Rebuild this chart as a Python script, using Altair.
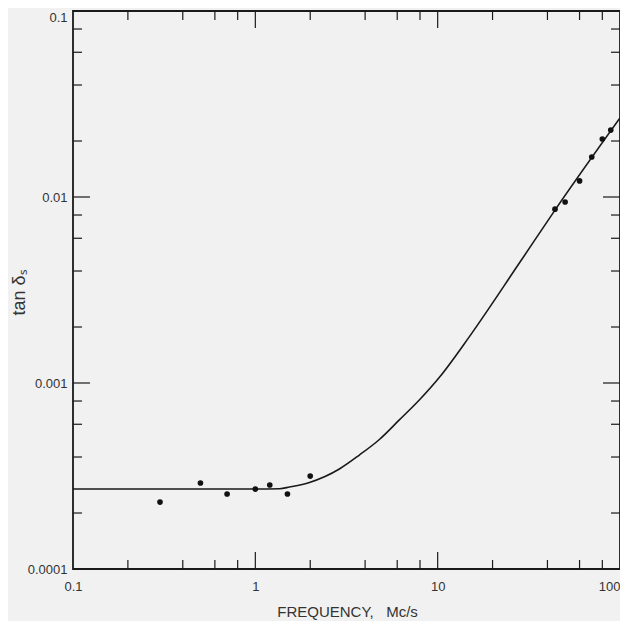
import altair as alt
import pandas as pd

# measured data points (frequency in Mc/s, tan delta_s)
pt_freq = [0.3, 0.5, 0.7, 1.0, 1.2, 1.5, 2.0, 44, 50, 60, 70, 80, 89]
pt_tan = [0.000229, 0.00029, 0.000253, 0.000269, 0.000283, 0.000253, 0.000316,
          0.0086, 0.0094, 0.0122, 0.0164, 0.0205, 0.0229]

# smooth curve
curve_freq = [0.1, 1.0, 1.36, 1.54, 1.98, 2.89, 3.72, 4.79, 6.16, 7.93, 10.2, 14.9, 28.0, 44.0, 100]
curve_tan = [0.000269, 0.000269, 0.00027, 0.000276, 0.000292, 0.000345, 0.00041, 0.000497,
             0.000633, 0.00081, 0.00107, 0.00177, 0.0044, 0.0085, 0.0266]

# axis ticks
x_label_vals = [0.1, 1, 10, 100]
y_label_vals = [0.0001, 0.001, 0.01, 0.1]
x_major = [1, 10]
x_minor = [0.2, 0.4, 0.6, 0.8, 2, 4, 6, 8, 20, 40, 60, 80]
y_major = [0.001, 0.01]
y_minor = [0.0002, 0.0004, 0.0006, 0.0008, 0.002, 0.004, 0.006, 0.008,
           0.02, 0.04, 0.06, 0.08]

W, H = 547, 558
MAJ, MIN = 17, 9
INK = "#1a1a1a"
FONT = "Liberation Sans"

curve_df = pd.DataFrame({"f": curve_freq, "t": curve_tan})
pts_df = pd.DataFrame({"f": pt_freq, "t": pt_tan})

xs = alt.Scale(type="log", domain=[0.1, 100], nice=False)
ys = alt.Scale(type="log", domain=[0.0001, 0.1], nice=False)

x_axis = alt.Axis(
    values=x_label_vals, format="~g", ticks=False, tickSize=0, domain=False, grid=False,
    labelPadding=11, labelFlush=False, labelOverlap=False, labelFont=FONT, labelFontSize=13,
    labelAlign={"condition": {"test": f"datum.value >= {max(x_label_vals)}", "value": "right"},
                "value": "center"},
    labelColor="#333", title="FREQUENCY,\u00a0\u00a0\u00a0Mc/s", titleFont=FONT,
    titleFontSize=15, titleFontWeight="normal", titleColor="#333", titleX=274, titleY=42,
    titleBaseline="middle", titleAlign="center")
y_axis = alt.Axis(
    values=y_label_vals, format="~g", ticks=False, tickSize=0, domain=False, grid=False,
    labelPadding=6, labelFlush=False, labelOverlap=False, labelFont=FONT, labelFontSize=13,
    labelBaseline={"condition": {"test": f"datum.value >= {max(y_label_vals)}", "value": "top"},
                   "value": "middle"},
    labelColor="#333", title="tan δₛ", titleFont=FONT, titleFontSize=18,
    titleFontWeight="normal", titleColor="#333", titleAngle=-90, titleX=-54, titleY=281,
    titleBaseline="middle", titleAlign="center")

X = alt.X("f:Q", scale=xs, axis=x_axis)
Y = alt.Y("t:Q", scale=ys, axis=y_axis)

line = alt.Chart(curve_df).mark_line(color=INK, strokeWidth=1.6, interpolate="monotone").encode(
    x=X, y=Y)
points = alt.Chart(pts_df).mark_circle(size=32, color="#111", opacity=1).encode(x=X, y=Y)


def xticks(vals, length):
    df = pd.DataFrame({"f": vals})
    bottom = alt.Chart(df).mark_rule(color=INK, strokeWidth=1.2).encode(
        x=X, y=alt.value(H), y2=alt.value(H - length))
    top = alt.Chart(df).mark_rule(color=INK, strokeWidth=1.2).encode(
        x=X, y=alt.value(0), y2=alt.value(length))
    return [bottom, top]


def yticks(vals, length):
    df = pd.DataFrame({"t": vals})
    left = alt.Chart(df).mark_rule(color=INK, strokeWidth=1.2).encode(
        y=Y, x=alt.value(0), x2=alt.value(length))
    right = alt.Chart(df).mark_rule(color=INK, strokeWidth=1.2).encode(
        y=Y, x=alt.value(W), x2=alt.value(W - length))
    return [left, right]


layers = [line, points] + xticks(x_major, MAJ) + xticks(x_minor, MIN) + \
    yticks(y_major, MAJ) + yticks(y_minor, MIN)

chart = alt.layer(*layers).properties(
    width=W, height=H,
    autosize=alt.AutoSizeParams(type="none"),
    padding={"left": 65, "top": 3, "right": 0, "bottom": 52},
    background="#f1f1f1",
).configure_view(stroke=INK, strokeWidth=1.8)

chart.save("out.html", embed_options={"renderer": "svg", "actions": False})
